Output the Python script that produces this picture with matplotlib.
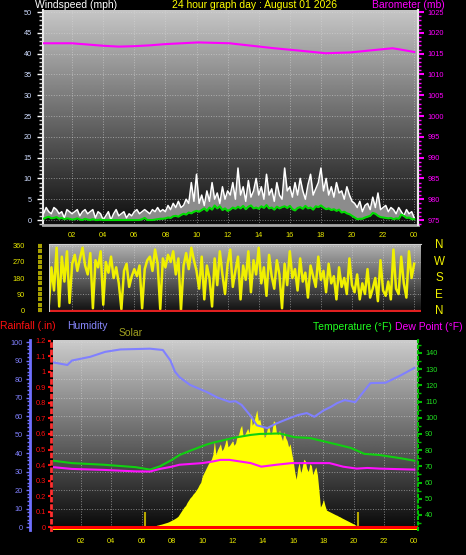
import numpy as np
import matplotlib.pyplot as plt
from matplotlib.ticker import MultipleLocator

plt.rcParams['font.family'] = ['Liberation Sans', 'DejaVu Sans']

W, H = 466, 555

# ---- wind, one sample every 10 minutes ----
wind_hours = np.arange(145) / 6
wind_gust = [2.5, 1.5, 3, 2, 1.5, 3, 2.5, 1.5, 2, 0.5, 2.5, 2, 1.5,
             2, 2.5, 1, 2, 2.5, 1.5, 2, 2.5, 0.5, 2, 1.5, 0,
             1, 2, 0, 1.5, 2.5, 1, 1.5, 2, 0.5, 1.5, 1, 2,
             2.5, 1.5, 2, 2.5, 2, 1.5, 2.5, 2, 3, 2, 2.5, 2,
             3.5, 2.5, 4, 3, 4.5, 3, 3.5, 5, 4, 9, 4.5, 11,
             4, 6, 3.5, 7, 4.5, 9, 5, 6.5, 4, 8, 5, 7,
             6, 9, 5, 12.5, 6, 8, 4.5, 9.5, 5.5, 7, 10, 6,
             8, 5, 11, 6, 7.5, 4.5, 9, 6, 5, 12.5, 7, 8,
             5.5, 9, 6, 10, 7, 5, 8.5, 11, 6, 7.5, 9, 12.5,
             7, 10, 6, 8, 5.5, 9, 6.5, 7, 5, 8, 6, 4.5,
             4, 3, 4.5, 2, 3.5, 4, 2.5, 5.5, 3, 6.5, 2.5, 3,
             3.5, 2, 3, 2.5, 1.5, 3, 2, 1, 2.5, 1.5, 2, 0.5]
wind_avg = [0.5, 0.3, 0.6, 0.8, 0.4, 0.5, 0.7, 0.3, 0.5, 0.2, 0.4, 0.3, 0.1,
            0.2, 0.4, 0.1, 0, 0.3, 0.1, 0, 0.2, 0, 0, 0.1, 0,
            0, 0, 0, 0, 0, 0, 0, 0, 0, 0, 0, 0,
            0, 0, 0.2, 0.5, 0, 0, 0, 0.1, 0.2, 0.3, 0.3, 0.4,
            0.6, 0.5, 0.9, 1, 0.8, 1.2, 1.5, 1.3, 1.8, 1.6, 2, 2.2,
            2, 2.4, 2.8, 2.2, 3, 2.5, 3.5, 2.8, 3.3, 2.4, 2.8, 2.2,
            2.5, 3, 2.7, 3.2, 2.8, 3.4, 2.6, 3.2, 3.5, 2.8, 3, 2.7,
            3.3, 2.9, 3.6, 2.8, 3, 2.5, 3.2, 2.8, 3.1, 3.3, 2.9, 3.4,
            2.6, 2.3, 2.9, 3.1, 2.7, 3.4, 2.8, 3, 2.5, 3.3, 3.1, 3.5,
            3, 2.6, 2.8, 2.4, 2.6, 2.2, 2.5, 1.8, 2, 1.6, 1.4, 1,
            0.6, 0.2, 0.3, 0.3, 0.6, 0.8, 1, 1.7, 1.5, 1, 0.7, 0.6,
            0.5, 0.4, 0.5, 0.2, 0.4, 0.3, 1.3, 1, 0.5, 0.6, 0.2, 0.2]
wind_dir = [280, 60, 320, 30, 240, 110, 350, 20, 300, 160, 330, 40, 260,
            310, 220, 290, 350, 250, 200, 320, 10, 280, 240, 330, 30,
            270, 210, 300, 180, 240, 150, 5, 220, 260, 130, 190, 230,
            190, 250, 10, 230, 280, 300, 220, 340, 260, 5, 290, 240,
            310, 270, 330, 200, 290, 0, 250, 320, 230, 350, 280, 220,
            120, 300, 60, 250, 180, 20, 290, 140, 330, 200, 90, 260,
            340, 130, 220, 300, 60, 250, 170, 330, 100, 280, 200, 350,
            150, 240, 80, 310, 190, 120, 280, 200, 10, 260, 140, 330,
            180, 230, 110, 290, 160, 210, 70, 250, 190, 130, 300, 170,
            220, 100, 260, 150, 190, 60, 240, 130, 180, 90, 290, 140,
            100, 200, 60, 150, 90, 230, 70, 120, 180, 50, 280, 110,
            80, 160, 60, 340, 120, 90, 300, 150, 70, 330, 180, 260]

# ---- barometer ----
baro_hours = [0.13, 2.0, 4.0, 5.0, 6.0, 7.0, 8.0, 10.1, 12.15, 12.35, 13.8,
              15.0, 16.7, 18.3, 19.9, 21.5, 22.6, 23.1, 23.7, 24.0]
baro_mb = [1017.5, 1017.5, 1016.9, 1016.7, 1016.8, 1017.0, 1017.3, 1017.7,
           1017.5, 1017.4, 1016.8, 1016.3, 1015.7, 1015.1, 1015.3, 1015.9,
           1016.3, 1016.0, 1015.6, 1015.4]

# ---- solar, every 6 minutes from 06:36 to 20:24 ----
solar_hours = np.arange(66, 205) / 10
solar_wm2 = [0, 3, 5, 8,
             12, 14, 17, 19, 22, 25, 28, 31, 35, 40,
             45, 50, 56, 62, 70, 85, 100, 115, 130, 140,
             160, 175, 190, 200, 215, 225, 240, 255, 275, 290,
             330, 350, 370, 390, 410, 425, 440, 470, 560, 470,
             500, 520, 540, 495, 510, 540, 580, 520, 530, 545,
             560, 530, 545, 590, 600, 640, 660, 590, 600, 620,
             640, 610, 740, 660, 680, 720, 760, 690, 700, 650,
             660, 580, 600, 640, 650, 600, 620, 690, 680, 610,
             600, 630, 590, 560, 620, 580, 560, 520, 540, 480,
             430, 360, 310, 380, 420, 350, 390, 440, 430, 380,
             360, 410, 400, 340, 370, 390, 340, 240, 130, 150,
             180, 140, 110, 105, 100, 95, 90, 85, 80, 76,
             70, 66, 60, 55, 50, 45, 40, 35, 30, 25,
             20, 14, 8, 3, 0]
sun_marks = [6.2, 20.25]

# ---- humidity / temperature / dew point / rain ----
hum_hours = [0.15, 1.1, 1.4, 2.6, 3.6, 4.6, 6.55, 7.4, 7.9, 8.2, 8.5, 9.2,
             10.3, 11.0, 11.8, 12.2, 12.6, 13.2, 13.6, 14.3, 14.9, 15.5,
             16.3, 16.9, 17.4, 18.0, 18.5, 18.9, 19.4, 20.1, 21.1, 22.1,
             23.1, 24.0]
humidity = [89, 87.6, 90, 92, 94.7, 96, 96.4, 95.7, 90, 84, 81, 76.8,
            73, 70, 67.7, 68, 66, 60, 55, 53.5, 56, 58,
            60.5, 61.6, 59.6, 63, 65, 67, 68.6, 67.5, 77.8, 78,
            82, 86]

temp_hours = [0.15, 1.4, 3.5, 5.6, 6.55, 7.2, 8.0, 8.5, 9.3, 10.3, 10.7,
              11.8, 12.0, 13.2, 13.8, 15.1, 16.1, 17.1, 18.4, 19.8, 20.7,
              21.7, 23.1, 24.0]
temperature = [73.5, 72, 71, 69.5, 68, 70, 74, 77, 80, 83.5, 84.6,
               87, 87.5, 89.4, 90, 90.3, 88, 87.5, 84.6, 81.4, 77.7,
               77, 75, 73.5]

dew_hours = [0.15, 1.4, 3.5, 5.6, 6.55, 7.2, 8.0, 8.5, 10.0, 10.7, 11.2,
             11.8, 12.5, 13.2, 13.9, 14.9, 15.9, 17.4, 18.4, 19.3, 20.2,
             20.9, 21.7, 24.0]
dew_point = [69.5, 68.4, 67.8, 66.9, 66.8, 68.4, 69.8, 71, 72, 73, 74,
             74, 73, 72, 69.8, 71, 72, 72, 72, 69.8, 68.6,
             69, 68.6, 68]

rain_hours = [0, 24.3]
rain_in = [0, 0]

hour_ticks = list(range(2, 25, 2))
hour_labels = ['%02d' % (h % 24) for h in hour_ticks]

fig = plt.figure(figsize=(W / 100, H / 100), dpi=100, facecolor='black')


def px_axes(l, t, r, b):
    return fig.add_axes([l / W, 1 - b / H, (r - l) / W, (b - t) / H])


def gradient(ax, top, bottom):
    x0, x1 = ax.get_xlim()
    y0, y1 = ax.get_ylim()
    g = np.linspace(top, bottom, 256).reshape(-1, 1)
    ax.imshow(g, extent=(x0, x1, y0, y1), aspect='auto', cmap='gray',
              vmin=0, vmax=1, origin='upper', zorder=0)
    ax.set_xlim(x0, x1)
    ax.set_ylim(y0, y1)


grid_kw = dict(ls=':', color='#d8d8d8', lw=0.7, alpha=0.55)
TS = 5.3
YEL = '#e8e800'

# ================= windspeed / barometer =================
ax1 = px_axes(43, 10, 418, 225)
ax1.set_xlim(0.13, 24.24)
ax1.set_ylim(-1.2, 50.5)
gradient(ax1, 0.78, 0.05)
ax1.fill_between(wind_hours, wind_avg, wind_gust, color='#8c8c8c', lw=0, zorder=2)
ax1.plot(wind_hours, wind_gust, color='white', lw=1.1, zorder=3)
ax1.plot(wind_hours, wind_avg, color='#00dd00', lw=1.5, zorder=4)
ax1.set_yticks(range(0, 51, 5))
ax1.set_xticks(hour_ticks)
ax1.set_xticklabels(hour_labels)
ax1.grid(True, **grid_kw)
ax1.yaxis.set_minor_locator(MultipleLocator(1))
ax1.tick_params(axis='y', which='major', color='white', labelcolor='#cfdcff',
                labelsize=TS, length=4, width=1, pad=4)
ax1.tick_params(axis='y', which='minor', color='#d0d0d0', length=3, width=1)
ax1.tick_params(axis='x', length=0, labelcolor=YEL, labelsize=TS, pad=5)
ax1.spines['top'].set_visible(False)
for s in ('left', 'right'):
    ax1.spines[s].set_color('#e8e8e8')
    ax1.spines[s].set_linewidth(1.5)
ax1.spines['bottom'].set_color('#a8a8a8')
ax1.spines['bottom'].set_linewidth(2)

ax1b = ax1.twinx()
ax1b.set_ylim(973.8, 1025.5)
ax1b.plot(baro_hours, baro_mb, color='#ff00ff', lw=1.5)
ax1b.set_yticks(range(975, 1026, 5))
ax1b.yaxis.set_minor_locator(MultipleLocator(1))
ax1b.tick_params(axis='y', which='major', colors='#ff00ff', labelsize=TS,
                 length=4, width=1.5, pad=3)
ax1b.tick_params(axis='y', which='minor', colors='#ff00ff', length=2, width=1)
for s in ('left', 'top', 'bottom'):
    ax1b.spines[s].set_visible(False)
ax1b.spines['right'].set_color('#e8e8e8')
ax1b.spines['right'].set_linewidth(1.5)

# ================= wind direction =================
ax2 = px_axes(49, 244, 421, 312)
ax2.set_xlim(0.51, 24.44)
ax2.set_ylim(-11, 371)
gradient(ax2, 0.70, 0.06)
ax2.plot(wind_hours, wind_dir, color='#f0f000', lw=1.8, zorder=3)
ax2.axhline(-4, color='#e02020', lw=1.6, zorder=4)
ax2.axvline(0.51, color='#d0d0d0', lw=1.5, zorder=4)
ax2.set_yticks([0, 90, 180, 270, 360])
ax2.yaxis.set_minor_locator(MultipleLocator(30))
ax2.set_xticks(hour_ticks)
ax2.set_xticklabels([])
ax2.grid(True, **grid_kw)
ax2.tick_params(axis='x', length=0)
ax2.tick_params(axis='y', which='both', color='#a8a000', length=2.9, width=3)
ax2.tick_params(axis='y', which='major', labelcolor=YEL, labelsize=TS, pad=9.4)
ax2.spines['left'].set_position(('outward', 5))
ax2.spines['left'].set_visible(False)
for s in ('right', 'bottom'):
    ax2.spines[s].set_visible(False)
ax2.spines['top'].set_color('#d0d0d0')

for letter, y in zip(['N', 'W', 'S', 'E', 'N'], [245, 261.5, 278, 295, 311]):
    fig.text(439 / W, 1 - y / H, letter, color='#f0f000', fontsize=8.4,
             ha='center', va='center')

# ================= solar / humidity / rain / temperature =================
ax3 = px_axes(53, 340, 418, 530)
ax3.set_xlim(0.15, 24.24)
ax3.set_ylim(-19, 1213)
gradient(ax3, 0.80, 0.03)
ax3.fill_between(solar_hours, 0, solar_wm2, color='#ffff00', lw=0, zorder=2)
ax3.axhspan(-19, -6, color='#ffff00', lw=0, zorder=2)
ax3.vlines(sun_marks, 0, 100, color='#b8a800', lw=1.5, zorder=3)
ax3.set_yticks(np.arange(0, 1201, 120))
ax3.set_yticklabels([])
ax3.set_xticks(hour_ticks)
ax3.set_xticklabels(hour_labels)
ax3.grid(True, **grid_kw)
ax3.tick_params(axis='y', length=0)
ax3.tick_params(axis='x', length=0, labelcolor=YEL, labelsize=TS, pad=5.5)
for s in ax3.spines.values():
    s.set_visible(False)

ax3h = ax3.twinx()
ax3h.set_ylim(-1.6, 101.1)
ax3h.plot(hum_hours, humidity, color='#8080ff', lw=1.5)
ax3h.yaxis.set_ticks_position('left')
ax3h.spines['left'].set_position(('outward', 16.6))
ax3h.spines['left'].set_visible(True)
ax3h.spines['left'].set_color('#7070ff')
ax3h.spines['left'].set_linewidth(2)
for s in ('right', 'top', 'bottom'):
    ax3h.spines[s].set_visible(False)
ax3h.set_yticks(range(0, 101, 10))
ax3h.yaxis.set_minor_locator(MultipleLocator(2))
ax3h.tick_params(axis='y', which='major', color='#7070ff', labelcolor='#8080ff',
                 labelsize=TS, length=3, width=1, pad=2)
ax3h.tick_params(axis='y', which='minor', color='#7070ff', length=2.2, width=1)

ax3r = ax3.twinx()
ax3r.set_ylim(-0.019, 1.206)
ax3r.plot(rain_hours, rain_in, color='#ff0000', lw=2.2)
ax3r.yaxis.set_ticks_position('left')
ax3r.spines['left'].set_position(('outward', 1.4))
ax3r.spines['left'].set_visible(True)
ax3r.spines['left'].set_color('#ff3030')
ax3r.spines['left'].set_linestyle(':')
ax3r.spines['left'].set_linewidth(2)
for s in ('right', 'top', 'bottom'):
    ax3r.spines[s].set_visible(False)
rain_ticks = np.round(np.arange(0, 1.21, 0.1), 1)
ax3r.set_yticks(rain_ticks)
ax3r.set_yticklabels(['%g' % v for v in rain_ticks])
ax3r.tick_params(axis='y', colors='#ff1010', labelsize=TS, length=2, width=1.5, pad=2)

ax3t = ax3.twinx()
ax3t.set_ylim(30.7, 148)
ax3t.plot(temp_hours, temperature, color='#10d010', lw=1.5)
ax3t.plot(dew_hours, dew_point, color='#ff10ff', lw=1.5)
for s in ('left', 'top', 'bottom'):
    ax3t.spines[s].set_visible(False)
ax3t.spines['right'].set_color('#00c000')
ax3t.spines['right'].set_linestyle(':')
ax3t.spines['right'].set_linewidth(1.5)
ax3t.set_yticks(range(40, 141, 10))
ax3t.yaxis.set_minor_locator(MultipleLocator(5))
ax3t.tick_params(axis='y', which='major', color='#00c000', labelcolor='#20e020',
                 labelsize=TS, length=3, width=1.5, pad=2)
ax3t.tick_params(axis='y', which='minor', color='#00c000', length=2, width=1)

# ================= headers =================
def header(x, y, s, color):
    fig.text(x / W, 1 - y / H, s, color=color, fontsize=7.5, ha='left', va='center')


header(35, 5.5, 'Windspeed (mph)', 'white')
header(172, 5.5, '24 hour graph day : August 01 2026', '#ffff00')
header(372, 5.5, 'Barometer (mb)', '#ff00ff')
header(0, 326, 'Rainfall (.in)', '#ff1010')
header(67, 326, 'Humidity', '#8888ff')
header(119, 332.5, 'Solar', '#a0a020')
header(313, 327, 'Temperature (°F)', '#20ff20')
header(395, 327, 'Dew Point (°F)', '#ff00ff')

fig.savefig('out.png', dpi=100, facecolor='black')
